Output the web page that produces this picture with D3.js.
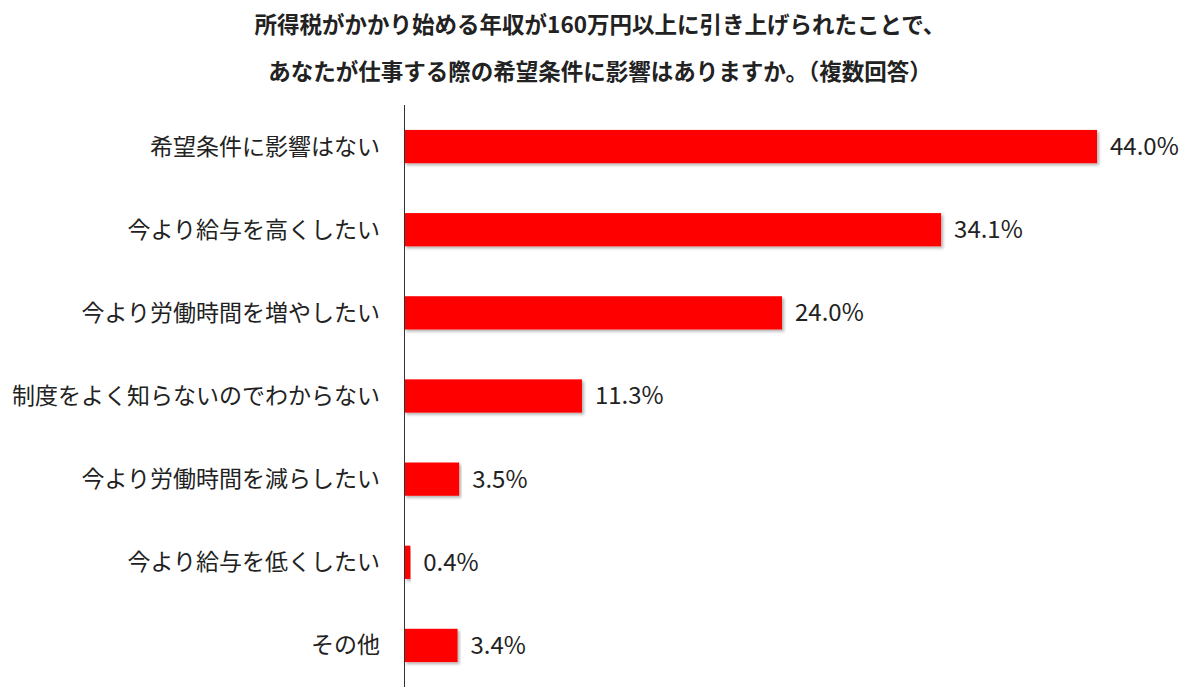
<!DOCTYPE html>
<html><head><meta charset="utf-8">
<script src="https://cdn.jsdelivr.net/npm/d3@7"></script>
<style>body{margin:0;background:#fff}svg{display:block}text{font-family:"Noto Sans CJK JP","Noto Sans",sans-serif}</style>
</head><body><svg id="c" width="1200" height="687"></svg>
<script>
const categories=["希望条件に影響はない","今より給与を高くしたい","今より労働時間を増やしたい","制度をよく知らないのでわからない","今より労働時間を減らしたい","今より給与を低くしたい","その他"];
const values=[44.0,34.1,24.0,11.3,3.5,0.4,3.4];
const titleLines=["所得税がかかり始める年収が160万円以上に引き上げられたことで、","あなたが仕事する際の希望条件に影響はありますか。（複数回答）"];
const svg=d3.select("#c");
const defs=svg.append("defs");
const f=defs.append("filter").attr("id","sh").attr("x","-5%").attr("y","-20%").attr("width","110%").attr("height","150%");
f.append("feDropShadow").attr("dx",2).attr("dy",2).attr("stdDeviation",1.5).attr("flood-color","#000").attr("flood-opacity",0.3);
const x=d3.scaleLinear().domain([0,44]).range([404,1097]);
const y=d3.scaleBand().domain(categories).range([105,687]).paddingInner(0.6).paddingOuter(0.3);
svg.selectAll(".t").data(titleLines).join("text").attr("x",600).attr("y",(d,i)=>33+i*47)
 .attr("text-anchor","middle").attr("font-size",22.5).attr("font-weight","bold").attr("fill","#222").text(d=>d);
svg.selectAll("rect.b").data(values).join("rect").attr("class","b").attr("x",x(0)).attr("y",(d,i)=>y(categories[i]))
 .attr("width",d=>x(d)-x(0)).attr("height",y.bandwidth()).attr("fill","#ff0000").attr("filter","url(#sh)");
svg.append("line").attr("x1",404.5).attr("x2",404.5).attr("y1",105).attr("y2",687).attr("stroke","#333").attr("stroke-width",1);
svg.selectAll(".c").data(categories).join("text").attr("x",380).attr("y",d=>y(d)+y.bandwidth()/2).attr("dy","0.35em")
 .attr("text-anchor","end").attr("font-size",23).attr("fill","#222").text(d=>d);
svg.selectAll(".v").data(values).join("text").attr("x",d=>x(d)+13).attr("y",(d,i)=>y(categories[i])+y.bandwidth()/2).attr("dy","0.35em")
 .attr("font-size",24).attr("fill","#222").text(d=>d.toFixed(1)+"%");
</script></body></html>
